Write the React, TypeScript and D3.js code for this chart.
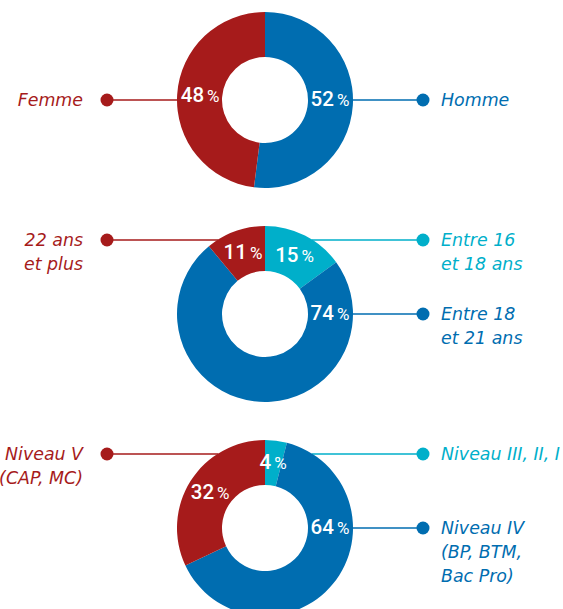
import React from 'react'
import * as d3 from 'd3'

const W = 563
const H = 609

// Répartition par sexe
const sexeLabels = ['Homme', 'Femme']
const sexeValues = [52, 48]

// Répartition par âge
const ageLabels = ['Entre 16\net 18 ans', 'Entre 18\net 21 ans', '22 ans\net plus']
const ageValues = [15, 74, 11]

// Répartition par niveau
const niveauLabels = ['Niveau III, II, I', 'Niveau IV\n(BP, BTM,\nBac Pro)', 'Niveau V\n(CAP, MC)']
const niveauValues = [4, 64, 32]

const RED = '#A61B1B'
const BLUE = '#006DB0'
const CYAN = '#00AFCA'

const charts = [
  { labels: sexeLabels, values: sexeValues, colors: [BLUE, RED] },
  { labels: ageLabels, values: ageValues, colors: [CYAN, BLUE, RED] },
  { labels: niveauLabels, values: niveauValues, colors: [CYAN, BLUE, RED] },
]

const CX = 265
const CY0 = 100
const STEP = 214
const R_OUT = 88
const R_IN = 43
const R_LABEL = 65
const DOT_DX = 158
const LINE_H = 24

const arc = d3.arc<d3.PieArcDatum<number>>().innerRadius(R_IN).outerRadius(R_OUT)
const pie = d3.pie<number>().sort(null).value(d => d)

const labelPos = (d: d3.PieArcDatum<number>) => {
  // big slice passing through 3 o'clock gets its label there
  const a = d.startAngle <= Math.PI / 2 && d.endAngle >= Math.PI / 2
    ? Math.PI / 2
    : (d.startAngle + d.endAngle) / 2
  return [R_LABEL * Math.sin(a), -R_LABEL * Math.cos(a)]
}

const Donut = ({ chart, cy }: { chart: any, cy: number }) => {
  const arcs = pie(chart.values)
  const n = arcs.length
  const rows = n === 2 ? [0] : [-74, 0]
  const callouts = arcs.map((d, i) => {
    const left = i === n - 1
    const dy = left ? rows[0] : rows[i]
    return { left, dy, label: chart.labels[i], color: chart.colors[i] }
  })

  return (
    <g transform={`translate(${CX},${cy})`}>
      {callouts.map((c, i) => {
        const edge = Math.sqrt(R_OUT * R_OUT - c.dy * c.dy)
        const dotX = c.left ? -DOT_DX : DOT_DX
        const edgeX = c.left ? -edge + 1 : edge - 1
        const tx = c.left ? dotX - 24 : dotX + 18
        const lines = c.label.split('\n')
        return (
          <g key={i}>
            <line x1={dotX} x2={edgeX} y1={c.dy} y2={c.dy} stroke={c.color} strokeWidth={1.5} />
            <circle cx={dotX} cy={c.dy} r={6.5} fill={c.color} />
            {lines.map((t: string, j: number) => (
              <text key={j} x={tx} y={c.dy + j * LINE_H} dy="0.36em"
                textAnchor={c.left ? 'end' : 'start'} fill={c.color}
                style={{ fontFamily: 'DejaVu Sans', fontStyle: 'italic', fontSize: '17.4px' }}>
                {t}
              </text>
            ))}
          </g>
        )
      })}
      {arcs.map((d, i) => (
        <path key={i} d={arc(d) as string} fill={chart.colors[i]} />
      ))}
      {arcs.map((d, i) => {
        const [x, y] = labelPos(d)
        return (
          <text key={i} x={x} y={y} dy="0.36em" textAnchor="middle" fill="#fff"
            style={{ fontFamily: 'Roboto' }}>
            <tspan style={{ fontSize: '20.5px', fontWeight: 500 }}>{d.data}</tspan>
            <tspan dx={3} style={{ fontSize: '17px', fontWeight: 400 }}>%</tspan>
          </text>
        )
      })}
    </g>
  )
}

export default function App() {
  return (
    <svg width={W} height={H} style={{ position: 'absolute', left: 0, top: 0, background: '#fff' }}>
      {charts.map((c, i) => (
        <Donut key={i} chart={c} cy={CY0 + i * STEP} />
      ))}
    </svg>
  )
}
